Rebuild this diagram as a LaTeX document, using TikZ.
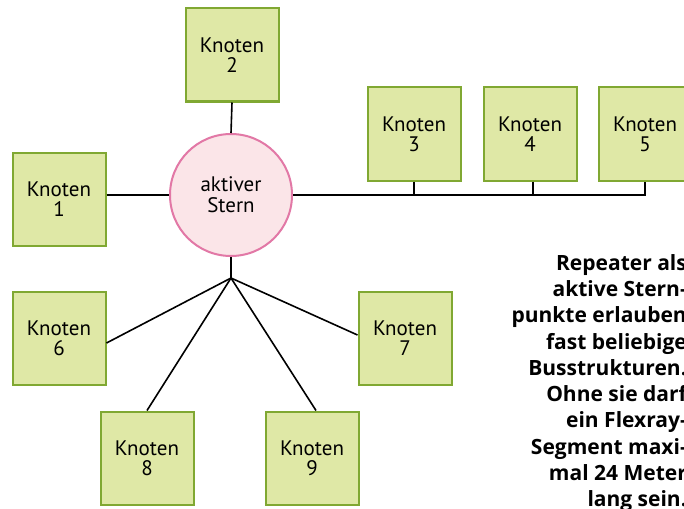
\documentclass[tikz,border=0pt]{standalone}
\usepackage{fontspec}
\setmainfont{PT Sans}
\newfontfamily\notefont{Open Sans}[BoldFont={Open Sans Bold}]
\usetikzlibrary{calc}
\begin{document}
\begin{tikzpicture}[x=1pt,y=-1pt,
  knot/.style={draw=knotborder,fill=knotfill,line width=2pt,minimum width=93pt,minimum height=93pt,inner sep=0pt,align=center,font=\fontsize{21}{20}\selectfont},
  star/.style={circle,draw=starborder,fill=starfill,line width=2pt,minimum size=122pt,inner sep=0pt,align=center,font=\fontsize{21}{21}\selectfont},
  wire/.style={line width=1.6pt,black},
  note/.style={align=right,inner sep=0pt,font=\notefont\bfseries\fontsize{21}{26.3}\selectfont}]
\definecolor{knotfill}{RGB}{223,232,166}
\definecolor{knotborder}{RGB}{128,168,50}
\definecolor{starfill}{RGB}{251,229,232}
\definecolor{starborder}{RGB}{226,120,166}
\clip (0,0) rectangle (684,508);
\fill[white] (0,0) rectangle (684,508);
\node[star] (st) at (231,195) {aktiver\\Stern};
\node[knot] (k1) at (59,199) {Knoten\\1};
\node[knot] (k2) at (232,55) {Knoten\\2};
\node[knot] (k3) at (414,134) {Knoten\\3};
\node[knot] (k4) at (530,134) {Knoten\\4};
\node[knot] (k5) at (645,134) {Knoten\\5};
\node[knot] (k6) at (59,338) {Knoten\\6};
\node[knot] (k7) at (405,338) {Knoten\\7};
\node[knot] (k8) at (147,458) {Knoten\\8};
\node[knot] (k9) at (312,458) {Knoten\\9};
\coordinate (j) at (231,278);
\draw[wire] (k2.south) -- (st.north);
\draw[wire] (k1.east |- st.west) -- (st.west);
\draw[wire] (st.east) -- (st.east -| k5.south) -- (k5.south);
\draw[wire] (k3.south) -- (k3.south |- st.east);
\draw[wire] ($(k4.south)+(3,0)$) -- ($(k4.south |- st.east)+(3,0)$);
\draw[wire] (st.south) -- (j);
\draw[wire] (j) -- ($(k6.east)+(0,5)$);
\draw[wire] (j) -- (k8.north);
\draw[wire] (j) -- ($(k9.north)+(4,0)$);
\draw[wire] (j) -- ($(k7.west)+(0,-3)$);
\node[note,anchor=north east] (nt) at (687,254) {Repeater als\\aktive Stern-\\punkte erlauben\\fast beliebige\\Busstrukturen.\\Ohne sie darf\\ein Flexray-\\Segment maxi-\\mal 24 Meter\\lang sein.};
\end{tikzpicture}
\end{document}
